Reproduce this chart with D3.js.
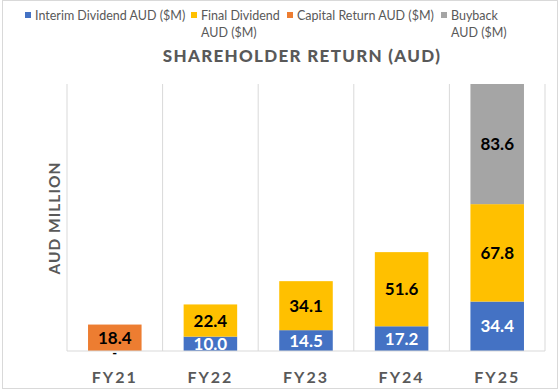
<!DOCTYPE html>
<html>
<head>
<meta charset="utf-8">
<script src="https://cdn.jsdelivr.net/npm/d3@7"></script>
<style>
  body { margin: 0; background: #fff; }
  text { font-family: Lato, "Open Sans", sans-serif; }
</style>
</head>
<body>
<div id="chart"></div>
<script>
// data (null = no segment, 0 = zero label "-")
const categories = ["FY21", "FY22", "FY23", "FY24", "FY25"];
const interim  = [0, 10.0, 14.5, 17.2, 34.4];
const final    = [null, 22.4, 34.1, 51.6, 67.8];
const capital  = [18.4, null, null, null, null];
const buyback  = [null, null, null, null, 83.6];

const seriesNames = ["Interim Dividend AUD ($M)", "Final Dividend AUD ($M)", "Capital Return AUD ($M)", "Buyback AUD ($M)"];
const seriesKeys = ["interim", "final", "capital", "buyback"];
const colors = ["#4472C4", "#FFC000", "#ED7D31", "#A5A5A5"];
const labelColors = ["#fff", "#000", "#000", "#000"];

const width = 560, height = 390;
const margin = {top: 84, right: 15, bottom: 39, left: 67};

const rows = categories.map((c, i) => ({
  cat: c, interim: interim[i], final: final[i], capital: capital[i], buyback: buyback[i]
}));

const svg = d3.select("#chart").append("svg")
  .attr("width", width).attr("height", height);

// chart border
svg.append("rect")
  .attr("x", 2.5).attr("y", 0.5).attr("width", 555).attr("height", 388)
  .attr("fill", "#fff").attr("stroke", "#d9d9d9");

const x = d3.scaleBand()
  .domain(categories)
  .range([margin.left, width - margin.right])
  .paddingInner(0.44).paddingOuter(0.22);

const stack = d3.stack().keys(seriesKeys).value((d, k) => d[k] || 0);
const stacked = stack(rows);
const ymax = d3.max(stacked[stacked.length - 1], d => d[1]);

const y = d3.scaleLinear()
  .domain([0, ymax])
  .range([height - margin.bottom, margin.top]);

// vertical category separators
const step = x.step();
const bounds = d3.range(categories.length + 1).map(i => margin.left + i * step);
svg.append("g").selectAll("line")
  .data(bounds).join("line")
    .attr("x1", d => d).attr("x2", d => d)
    .attr("y1", margin.top).attr("y2", height - margin.bottom)
    .attr("stroke", "#d9d9d9");

// bars
const layer = svg.append("g").selectAll("g")
  .data(stacked).join("g")
    .attr("fill", (d, i) => colors[i]);

layer.selectAll("rect")
  .data(d => d.filter(p => p.data[d.key] != null && p.data[d.key] > 0))
  .join("rect")
    .attr("x", d => x(d.data.cat))
    .attr("width", x.bandwidth())
    .attr("y", d => y(d[1]))
    .attr("height", d => y(d[0]) - y(d[1]));

// baseline
svg.append("line")
  .attr("x1", margin.left).attr("x2", width - margin.right)
  .attr("y1", y(0)).attr("y2", y(0))
  .attr("stroke", "#d9d9d9");

// value labels
stacked.forEach((s, si) => {
  svg.append("g").selectAll("text")
    .data(s.filter(p => p.data[s.key] != null))
    .join("text")
      .attr("x", d => x(d.data.cat) + x.bandwidth() / 2)
      .attr("y", d => (y(d[0]) + y(d[1])) / 2)
      .attr("dy", d => d.data[s.key] === 0 ? "0.55em" : "0.36em")
      .attr("text-anchor", "middle")
      .attr("font-size", d => d.data[s.key] === 0 ? 13 : 17)
      .attr("font-weight", "bold")
      .attr("fill", d => d.data[s.key] === 0 ? "#000" : labelColors[si])
      .text(d => d.data[s.key] === 0 ? "-" : d3.format(".1f")(d.data[s.key]));
});

// x axis
const xAxis = svg.append("g")
  .attr("transform", `translate(0,${height - margin.bottom})`)
  .call(d3.axisBottom(x).tickSize(0).tickPadding(21));
xAxis.select(".domain").remove();
xAxis.selectAll("text")
  .attr("font-family", "Lato, sans-serif")
  .attr("font-size", 16)
  .attr("font-weight", "bold")
  .attr("letter-spacing", 2)
  .attr("fill", "#595959");

// title
svg.append("text")
  .attr("x", 302).attr("y", 62)
  .attr("text-anchor", "middle")
  .attr("font-size", 17)
  .attr("font-weight", "900")
  .attr("letter-spacing", 1.3)
  .attr("fill", "#595959")
  .text("SHAREHOLDER RETURN (AUD)");

// y axis title
svg.append("text")
  .attr("transform", `translate(60,218) rotate(-90)`)
  .attr("text-anchor", "middle")
  .attr("font-size", 15.5)
  .attr("font-weight", "bold")
  .attr("letter-spacing", 1)
  .attr("fill", "#595959")
  .text("AUD MILLION");

// legend
const legendPos = [{x: 25, lines: ["Interim Dividend AUD ($M)"]},
                   {x: 191, lines: ["Final Dividend", "AUD ($M)"]},
                   {x: 287, lines: ["Capital Return AUD ($M)"]},
                   {x: 441, lines: ["Buyback", "AUD ($M)"]}];
const legend = svg.append("g").selectAll("g")
  .data(seriesNames).join("g")
    .attr("transform", (d, i) => `translate(${legendPos[i].x},12)`);
legend.append("rect")
  .attr("width", 6).attr("height", 6)
  .attr("fill", (d, i) => colors[i]);
legend.append("text")
  .attr("x", 10).attr("y", 8)
  .attr("font-size", 12.5)
  .attr("fill", "#595959")
  .selectAll("tspan")
  .data((d, i) => legendPos[i].lines).join("tspan")
    .attr("x", 10)
    .attr("dy", (d, i) => i ? 16.5 : 0)
    .text(d => d);
</script>
</body>
</html>
